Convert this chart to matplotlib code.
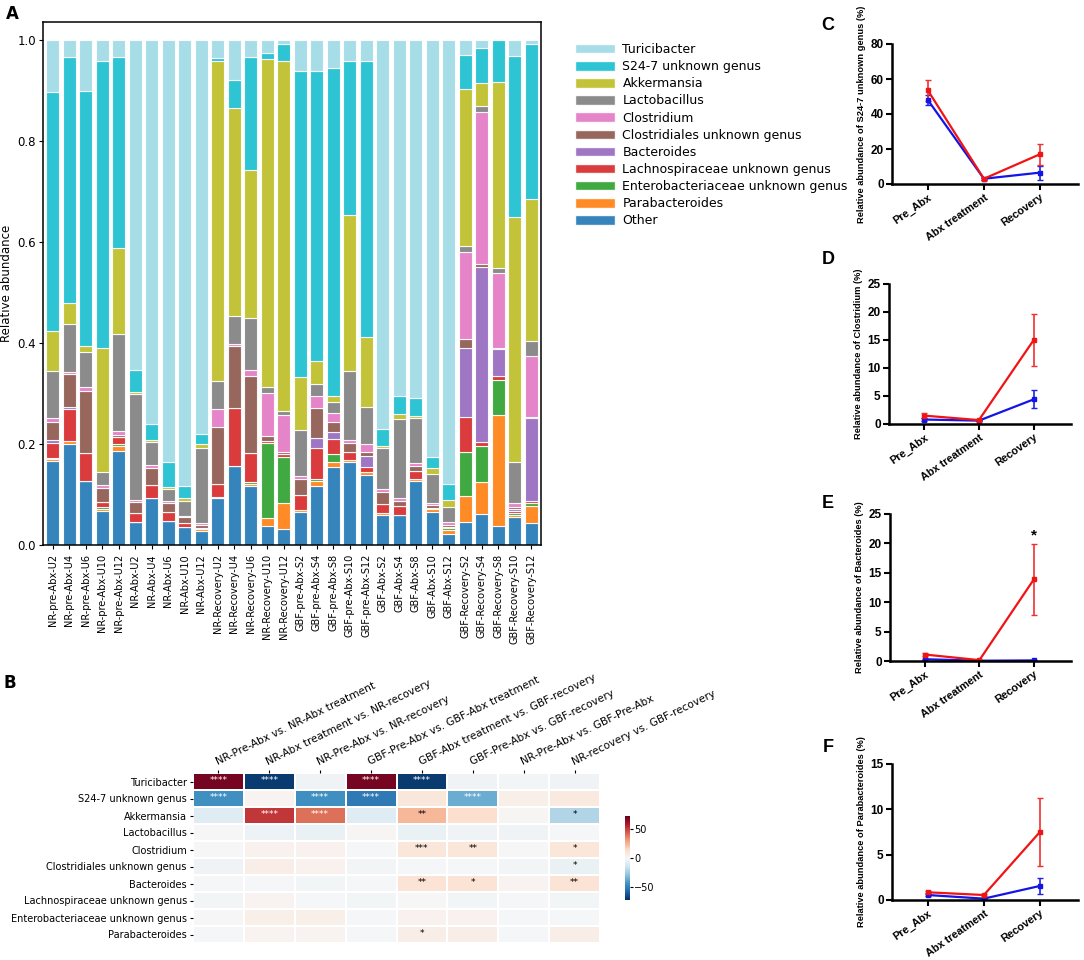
import numpy as np
import matplotlib
matplotlib.use("Agg")
import matplotlib.pyplot as plt
from matplotlib.patches import Patch

# ---------------- Panel A data ----------------
samples = ["NR-pre-Abx-U2", "NR-pre-Abx-U4", "NR-pre-Abx-U6", "NR-pre-Abx-U10", "NR-pre-Abx-U12",
           "NR-Abx-U2", "NR-Abx-U4", "NR-Abx-U6", "NR-Abx-U10", "NR-Abx-U12",
           "NR-Recovery-U2", "NR-Recovery-U4", "NR-Recovery-U6", "NR-Recovery-U10", "NR-Recovery-U12",
           "GBF-pre-Abx-S2", "GBF-pre-Abx-S4", "GBF-pre-Abx-S8", "GBF-pre-Abx-S10", "GBF-pre-Abx-S12",
           "GBF-Abx-S2", "GBF-Abx-S4", "GBF-Abx-S8", "GBF-Abx-S10", "GBF-Abx-S12",
           "GBF-Recovery-S2", "GBF-Recovery-S4", "GBF-Recovery-S8", "GBF-Recovery-S10", "GBF-Recovery-S12"]

# stacking order bottom -> top
other = [.167, .201, .127, .067, .187, .045, .093, .048, .035, .028, .093, .157, .117, .038, .032,
         .065, .117, .155, .164, .139, .060, .060, .127, .065, .022, .045, .061, .038, .056, .043]
parabacteroides = [.004, .005, 0, .005, .010, 0, 0, 0, 0, .003, 0, 0, .003, .016, .051,
                   .005, .010, .010, .004, .006, .004, 0, .003, .006, .007, .053, .063, .220, .004, .035]
enterobacteriaceae = [.002, 0, 0, .003, .003, 0, 0, 0, 0, .003, .003, 0, .005, .149, .092,
                      0, .004, .015, 0, 0, 0, 0, 0, .003, .004, .087, .073, .069, .004, .005]
lachnospiraceae = [.030, .063, .056, .010, .013, .018, .025, .018, .008, 0, .025, .115, .058, .004, .005,
                   .030, .062, .030, .017, .009, .017, .018, .016, 0, .003, .069, .008, .008, .004, .005]
bacteroides = [.005, .004, 0, 0, 0, 0, 0, 0, 0, 0, 0, 0, 0, 0, 0,
               0, .019, .013, 0, .023, 0, 0, 0, 0, 0, .136, .346, .053, .003, .163]
clostridiales = [.035, .065, .123, .028, .005, .022, .035, .018, .012, .005, .112, .122, .152, .008, .005,
                 .030, .059, .020, .018, .008, .023, .010, .011, .005, .004, .018, .005, .003, .005, .002]
clostridium = [.008, .004, .007, .006, .008, .005, .005, .003, .003, .005, .037, .005, .011, .087, .073,
               .007, .025, .018, .005, .016, .006, .005, .006, .005, .006, .172, .301, .147, .008, .122]
lactobacillus = [.094, .096, .070, .025, .192, .209, .047, .024, .030, .149, .055, .055, .103, .011, .008,
                 .091, .023, .022, .136, .073, .082, .157, .088, .056, .030, .013, .013, .010, .080, .030]
akkermansia = [.078, .042, .012, .246, .170, .004, .003, .004, .006, .008, .633, .411, .293, .649, .692,
               .105, .046, .013, .310, .139, .004, .009, .004, .012, .013, .310, .046, .370, .486, .280]
s24_7 = [.475, .486, .505, .568, .378, .044, .032, .050, .023, .019, .006, .056, .224, .012, .035,
         .606, .574, .649, .304, .545, .034, .037, .037, .022, .032, .068, .069, .082, .319, .307]
turicibacter = [.102, .034, .100, .042, .034, .653, .760, .835, .883, .780, .036, .079, .034, .026, .007,
                .061, .061, .055, .042, .042, .770, .704, .708, .826, .879, .029, .015, 0, .031, .008]

taxa = ["Other", "Parabacteroides", "Enterobacteriaceae unknown genus", "Lachnospiraceae unknown genus",
        "Bacteroides", "Clostridiales unknown genus", "Clostridium", "Lactobacillus", "Akkermansia",
        "S24-7 unknown genus", "Turicibacter"]
taxa_values = [other, parabacteroides, enterobacteriaceae, lachnospiraceae, bacteroides, clostridiales,
               clostridium, lactobacillus, akkermansia, s24_7, turicibacter]
taxa_colors = ["#1f77b4", "#ff7f0e", "#2ca02c", "#d62728", "#9467bd", "#8c564b",
               "#e377c2", "#7f7f7f", "#bcbd22", "#17becf", "#9edae5"]

# ---------------- Panel B data ----------------
comparisons = ["NR-Pre-Abx vs. NR-Abx treatment", "NR-Abx treatment vs. NR-recovery",
               "NR-Pre-Abx vs. NR-recovery", "GBF-Pre-Abx vs. GBF-Abx treatment",
               "GBF-Abx treatment vs. GBF-recovery", "GBF-Pre-Abx vs. GBF-recovery",
               "NR-Pre-Abx vs. GBF-Pre-Abx", "NR-recovery vs. GBF-recovery"]
genera = ["Turicibacter", "S24-7 unknown genus", "Akkermansia", "Lactobacillus", "Clostridium",
          "Clostridiales unknown genus", "Bacteroides", "Lachnospiraceae unknown genus",
          "Enterobacteriaceae unknown genus", "Parabacteroides"]
diff_turicibacter = [70, -70, -3, 70, -70, -3, -2, -3]
diff_s24_7 = [-45, 2, -45, -52, 8, -36, 4, 7]
diff_akkermansia = [-9, 52, 40, -9, 24, 12, 1, -22]
diff_lactobacillus = [0, -4, -5, 1, -5, -3, -3, -1]
diff_clostridium = [0, 3, 3, -1, 9, 9, 0, 9]
diff_clostridiales = [-3, 5, 3, -2, -1, -1, -2, -5]
diff_bacteroides = [-1, -1, -2, -1, 10, 10, 2, 10]
diff_lachnospiraceae = [-2, 2, -1, -2, 0, -2, -1, -2]
diff_enterobacteriaceae = [0, 4, 4, -1, 3, 3, -1, -1]
diff_parabacteroides = [-1, 2, 2, -1, 5, 5, -1, 5]
heat_rows = [diff_turicibacter, diff_s24_7, diff_akkermansia, diff_lactobacillus, diff_clostridium,
             diff_clostridiales, diff_bacteroides, diff_lachnospiraceae, diff_enterobacteriaceae,
             diff_parabacteroides]
sig_turicibacter = ["****", "****", "", "****", "****", "", "", ""]
sig_s24_7 = ["****", "", "****", "****", "", "****", "", ""]
sig_akkermansia = ["", "****", "****", "", "**", "", "", "*"]
sig_lactobacillus = [""] * 8
sig_clostridium = ["", "", "", "", "***", "**", "", "*"]
sig_clostridiales = ["", "", "", "", "", "", "", "*"]
sig_bacteroides = ["", "", "", "", "**", "*", "", "**"]
sig_lachnospiraceae = [""] * 8
sig_enterobacteriaceae = [""] * 8
sig_parabacteroides = ["", "", "", "", "*", "", "", ""]
sig_rows = [sig_turicibacter, sig_s24_7, sig_akkermansia, sig_lactobacillus, sig_clostridium,
            sig_clostridiales, sig_bacteroides, sig_lachnospiraceae, sig_enterobacteriaceae,
            sig_parabacteroides]

# ---------------- Panels C-F data ----------------
phases = ["Pre_Abx", "Abx treatment", "Recovery"]
s24_red = [53.5, 3.0, 17.0]; s24_red_err = [6.0, 0.5, 6.0]
s24_blue = [48.0, 3.0, 6.5]; s24_blue_err = [3.0, 0.5, 4.0]
clo_red = [1.5, 0.7, 15.0]; clo_red_err = [0.4, 0.1, 4.7]
clo_blue = [0.8, 0.6, 4.4]; clo_blue_err = [0.2, 0.1, 1.6]
bac_red = [1.1, 0.15, 13.9]; bac_red_err = [0.3, 0.05, 6.0]
bac_blue = [0.3, 0.05, 0.1]; bac_blue_err = [0.1, 0.02, 0.05]
par_red = [0.85, 0.55, 7.5]; par_red_err = [0.12, 0.06, 3.75]
par_blue = [0.55, 0.15, 1.55]; par_blue_err = [0.12, 0.05, 0.9]

# =============== Figure ===============
fig = plt.figure(figsize=(10.84, 9.6), dpi=100)

# ---- Panel A ----
axA = fig.add_axes([43 / 1084, 1 - 545 / 960, 498 / 1084, 523 / 960])
x = np.arange(len(samples))
bottom = np.zeros(len(samples))
for name, vals, col in zip(taxa, taxa_values, taxa_colors):
    v = np.array(vals, dtype=float)
    axA.bar(x, v, bottom=bottom, width=0.78, color=col, alpha=0.9, edgecolor="white",
            linewidth=0.8, label=name)
    bottom += v
axA.set_xlim(-0.6, 29.6)
axA.set_ylim(0, 1.036)
axA.set_yticks([0.0, 0.2, 0.4, 0.6, 0.8, 1.0])
axA.set_yticklabels(["0.0", "0.2", "0.4", "0.6", "0.8", "1.0"], fontsize=8.5)
axA.set_xticks(x)
axA.set_xticklabels(samples, rotation=90, fontsize=7.8, fontstretch="condensed")
axA.set_ylabel("Relative abundance", fontsize=8.5, labelpad=3)
for s in axA.spines.values():
    s.set_linewidth(1.1)
axA.tick_params(axis="x", length=3)
axA.tick_params(axis="y", length=3, pad=2)

handles = [Patch(facecolor=c, alpha=0.9, edgecolor="white") for c in taxa_colors][::-1]
fig.legend(handles, taxa[::-1], loc="upper left", bbox_to_anchor=(570 / 1084, 1 - 38 / 960),
           frameon=False, fontsize=9, handlelength=3.2, handleheight=0.8, labelspacing=0.33,
           handletextpad=0.6, borderaxespad=0)

fig.text(12 / 1084, 1 - 14 / 960, "A", fontsize=12, fontweight="bold", va="center", ha="center")

# ---- Panel B ----
axB = fig.add_axes([193 / 1084, 1 - 943 / 960, 407 / 1084, 170 / 960])
H = np.array(heat_rows, dtype=float)
mesh = axB.pcolormesh(np.arange(9), np.arange(11), H, cmap="RdBu_r", vmin=-73, vmax=73,
                      edgecolors="white", linewidth=0.15)
axB.set_xlim(0, 8)
axB.set_ylim(10, 0)
for i, row in enumerate(sig_rows):
    for j, s in enumerate(row):
        if s:
            colr = "white" if abs(H[i, j]) > 30 else "black"
            axB.text(j + 0.5, i + 0.42, s, ha="center", va="center", fontsize=6.5, color=colr)
axB.xaxis.tick_top()
axB.set_xticks(np.arange(8) + 0.5)
axB.set_xticklabels(comparisons, rotation=26, ha="left", rotation_mode="anchor", fontsize=7.6)
axB.set_yticks(np.arange(10) + 0.5)
axB.set_yticklabels(genera, fontsize=7.0)
axB.tick_params(length=2.5, width=0.8, pad=2)
for s in axB.spines.values():
    s.set_visible(False)

cax = fig.add_axes([625 / 1084, 1 - 900 / 960, 5 / 1084, 84 / 960])
cb = fig.colorbar(mesh, cax=cax, ticks=[50, 0, -50])
cb.ax.tick_params(labelsize=7, length=2, pad=1)
cb.outline.set_visible(False)

fig.text(10 / 1084, 1 - 683 / 960, "B", fontsize=12, fontweight="bold", va="center", ha="center")

# ---- Panels C-F ----
bold = dict(family=["Liberation Sans", "DejaVu Sans"], fontweight="bold")
panels = [
    ("C", 26, [892, 44, 1078, 184], 80, [0, 20, 40, 60, 80], s24_red, s24_red_err, s24_blue, s24_blue_err,
     "Relative abundance of S24-7 unknown genus (%)"),
    ("D", 260, [889, 284, 1071, 424], 25, [0, 5, 10, 15, 20, 25], clo_red, clo_red_err, clo_blue, clo_blue_err,
     "Relative abundance of Clostridium (%)"),
    ("E", 503, [890, 514, 1071, 661], 25, [0, 5, 10, 15, 20, 25], bac_red, bac_red_err, bac_blue, bac_blue_err,
     "Relative abundance of Bacteroides (%)"),
    ("F", 748, [892, 764, 1078, 900], 15, [0, 5, 10, 15], par_red, par_red_err, par_blue, par_blue_err,
     "Relative abundance of Parabacteroides (%)"),
]
xp = np.arange(3)
for lab, ly, (l, t, r, b), ymax, yt, rv, re, bv, be, ylab in panels:
    ax = fig.add_axes([l / 1084, 1 - b / 960, (r - l) / 1084, (b - t) / 960])
    ax.errorbar(xp, bv, yerr=be, color="#1414e6", ecolor="#2020e6", lw=1.6, elinewidth=1.2,
                capsize=2.5, marker="s", ms=2.5)
    ax.errorbar(xp, rv, yerr=re, color="#f01414", ecolor="#f03030", lw=1.6, elinewidth=1.2,
                capsize=2.5, marker="s", ms=2.5)
    ax.set_xlim(-0.64, 2.68)
    ax.set_ylim(0, ymax)
    ax.set_yticks(yt)
    ax.set_yticklabels([str(v) for v in yt], fontsize=8.5, **bold)
    ax.set_xticks(xp)
    ax.set_xticklabels(phases, rotation=35, ha="right", rotation_mode="anchor", fontsize=7.8, **bold)
    ax.set_ylabel(ylab, fontsize=6.7, labelpad=3, **bold)
    ax.spines["top"].set_visible(False)
    ax.spines["right"].set_visible(False)
    ax.spines["left"].set_linewidth(1.8)
    ax.spines["bottom"].set_linewidth(1.8)
    ax.tick_params(width=1.5, length=4, pad=2)
    if lab == "E":
        ax.text(2, 21.3, "*", ha="center", va="center", fontsize=11, **bold)
    fig.text(828 / 1084, 1 - ly / 960, lab, fontsize=13, family=["Liberation Sans", "DejaVu Sans"],
             fontweight="bold", va="center", ha="center")

fig.savefig("out.png", dpi=100)
